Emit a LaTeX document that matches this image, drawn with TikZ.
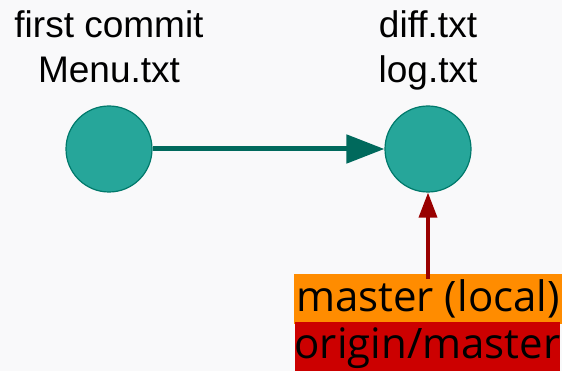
\documentclass[tikz,border=0pt]{standalone}
\usepackage{fontspec}
\setmainfont{Liberation Sans}
\newfontfamily\tagfont{Open Sans}
\usetikzlibrary{arrows.meta,positioning}
\definecolor{bgcolor}{HTML}{F9F9FA}
\definecolor{commitfill}{HTML}{26A69A}
\definecolor{commitline}{HTML}{00796B}
\definecolor{parentline}{HTML}{00695C}
\definecolor{headline}{HTML}{990000}
\definecolor{localorange}{HTML}{FF8C00}
\definecolor{originred}{HTML}{CC0000}

\tikzset{
  commit/.style={circle, draw=commitline, line width=1.2, fill=commitfill, minimum size=86, inner sep=0},
  msg/.style={anchor=north, inner sep=0, align=center, font=\fontsize{37}{45}\selectfont},
  parent/.style={draw=parentline, line width=5, -{Triangle[length=38,width=28]}},
  headptr/.style={draw=headline, line width=3.5, -{Triangle[length=25,width=18]}},
  branch/.style={anchor=base, inner sep=0, font=\tagfont\fontsize{42}{48}\selectfont}
}

\begin{document}
\begin{tikzpicture}[x=1pt,y=-1pt]

\fill [bgcolor] (0,0) rectangle (562,371);
\useasboundingbox (0,0) rectangle (562,371);

% commits
\node [commit] (c1) at (109,149) {};
\node [commit] (c2) at (428,149) {};

\node [msg] (c1msg) at (109,10) {first commit\\Menu.txt};
\node [msg] (c2msg) at (428,10) {diff.txt\\log.txt};

\draw [parent] (c1) -- (c2);

% branches
\node [branch, fill=localorange, minimum width=268, text height=38, text depth=12] (local) at (428,312) {master (local)};
\node [branch, fill=originred, minimum width=263, text height=36, text depth=13] (origin) at (427.5,358) {origin/master};

\draw [headptr] (local.north) ++(0,5) -- (c2);

\end{tikzpicture}
\end{document}
